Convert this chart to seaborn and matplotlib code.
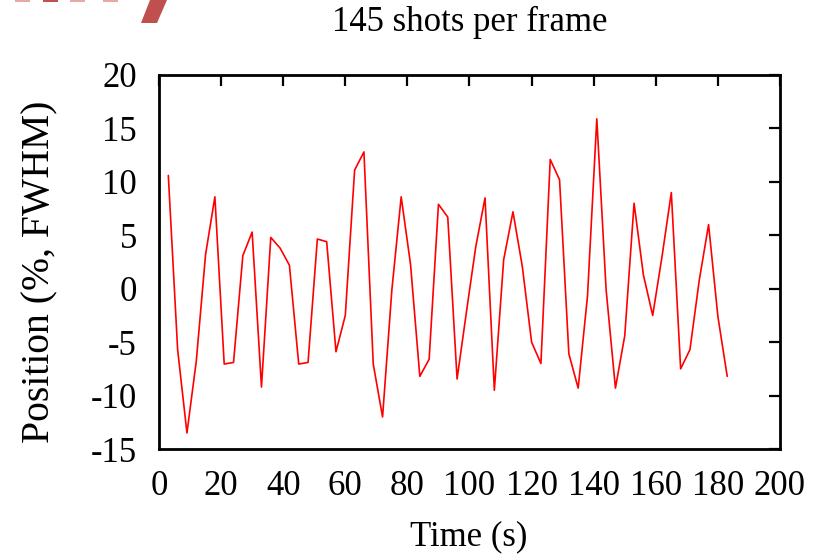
import matplotlib
matplotlib.use("Agg")
import matplotlib.pyplot as plt
from matplotlib.patches import Polygon, Rectangle
import seaborn as sns
import pandas as pd

time_s = [3, 6, 9, 12, 15, 18, 21, 24, 27, 30, 33, 36, 39, 42, 45, 48, 51, 54, 57, 60,
          63, 66, 69, 72, 75, 78, 81, 84, 87, 90, 93, 96, 99, 102, 105, 108, 111, 114, 117, 120,
          123, 126, 129, 132, 135, 138, 141, 144, 147, 150, 153, 156, 159, 162, 165, 168, 171, 174, 177, 180,
          183]
position = [10.6, -5.7, -13.5, -6.8, 3.2, 8.6, -7.05, -6.9, 3.1, 5.3, -9.2, 4.8, 3.8, 2.2, -7.05, -6.9, 4.65, 4.4, -5.9, -2.5,
            11.1, 12.8, -7.05, -12.0, -0.1, 8.6, 2.3, -8.2, -6.6, 7.9, 6.7, -8.45, -2.2, 3.9, 8.5, -9.5, 2.7, 7.2, 2.1, -5.0,
            -7.0, 12.1, 10.2, -6.1, -9.3, -0.7, 15.9, -0.1, -9.3, -4.4, 8.0, 1.3, -2.5, 3.0, 9.0, -7.5, -5.7, 0.8, 6.0, -2.6,
            -8.2]

x_ticks = [0, 20, 40, 60, 80, 100, 120, 140, 160, 180, 200]
y_ticks = [-15, -10, -5, 0, 5, 10, 15, 20]
title_text = "145 shots per frame"
x_label = "Time (s)"
y_label = "Position (%, FWHM)"

sns.set_theme(style="white")
plt.rcParams["font.family"] = ["Liberation Serif", "DejaVu Serif"]

W, H = 828, 556
fig = plt.figure(figsize=(W / 100, H / 100), dpi=100)
ax = fig.add_axes([159 / W, 1 - 449 / H, (780 - 159) / W, (449 - 75) / H])

df = pd.DataFrame({"t": time_s, "pos": position})
sns.lineplot(data=df, x="t", y="pos", ax=ax, color="#ff0000", linewidth=1.2)

ax.set_xlim(0, 200)
ax.set_ylim(-15, 20)
ax.set_xticks(x_ticks)
ax.set_yticks(y_ticks)
ax.set_xticklabels([str(v) for v in x_ticks], fontsize=25)
ax.set_yticklabels([str(v) for v in y_ticks], fontsize=25)
ax.tick_params(direction="in", top=True, right=True, length=8, width=1.6,
               color="black", labelcolor="black")
ax.tick_params(axis="x", pad=15)
ax.tick_params(axis="y", pad=16)
ax.set_xlabel("")
ax.set_ylabel("")
for s in ax.spines.values():
    s.set_color("black")
    s.set_linewidth(2)
ax.grid(False)

fig.text(470 / W, 1 - 22 / H, title_text, ha="center", va="center", fontsize=25, color="black")
fig.text(469 / W, 1 - 537 / H, x_label, ha="center", va="center", fontsize=25, color="black")
fig.text(40 / W, 1 - 272 / H, y_label, ha="center", va="center", rotation=90, fontsize=28.5, color="black")

# decorative red fragment at top-left
red = "#c0504d"
fig.patches.append(Polygon([[150 / W, 1.0], [167 / W, 1.0], [157 / W, 1 - 23 / H], [141 / W, 1 - 23 / H]],
                           closed=True, transform=fig.transFigure, facecolor=red, edgecolor="none"))
for x0, x1, c in [(15, 30, "#e8a8a6"), (43, 58, red), (70, 85, "#e8a8a6"), (103, 118, "#e8a8a6")]:
    fig.patches.append(Rectangle((x0 / W, 1 - 1.5 / H), (x1 - x0) / W, 1.5 / H,
                                 transform=fig.transFigure, facecolor=c, edgecolor="none"))

fig.savefig("out.png", dpi=100, facecolor="white")
